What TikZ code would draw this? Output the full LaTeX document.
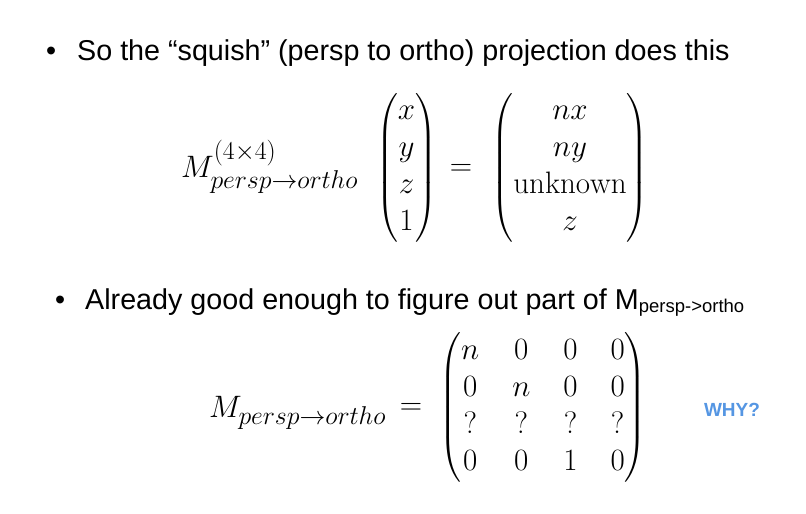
\RequirePackage{fix-cm}
\documentclass[tikz,border=0pt]{standalone}
\usepackage{amsmath}
\usepackage{fontspec}
\newfontfamily\slidefont{Liberation Sans}
\DeclareMathSizes{31}{31}{25.8}{21.7}
\definecolor{whyblue}{HTML}{5596E3}
\tikzset{
  bullettext/.style={anchor=base west, inner sep=0pt, font=\slidefont\fontsize{28.7}{34}\selectfont},
  mathbig/.style={inner sep=0pt, font=\fontsize{31}{37}\selectfont\setlength\arraycolsep{16.5pt}},
}
\begin{document}
\begin{tikzpicture}[x=1pt,y=-1pt]
\useasboundingbox[fill=white] (0,0) rectangle (806,514);
% first bullet
\node[bullettext] (b1) at (46,60) {•};
\node[bullettext] (t1) at (77,60) {So the “squish” (persp to ortho) projection does this};
% first equation
\node[mathbig, anchor=base west] (m1) at (181,177) {$M^{(4\times4)}_{persp\to ortho}$};
\node[mathbig] (v1) at (406.5,168) {$\begin{pmatrix}x\\y\\z\\1\end{pmatrix}$};
\node[mathbig] (eq1) at (461,170) {$=$};
\node[mathbig] (r1) at (570,168) {$\begin{pmatrix}nx\\ny\\\mathrm{unknown}\\z\end{pmatrix}$};
% second bullet
\node[bullettext] (b2) at (55,309) {•};
\node[bullettext] (t2) at (85,309) {Already good enough to figure out part of M\raisebox{-0.2ex}{\fontsize{18.5}{22}\selectfont persp->ortho}};
% second equation
\node[mathbig, anchor=base west] (m2) at (209,417) {$M_{persp\to ortho}$};
\node[mathbig] (eq2) at (411,409) {$=$};
\node[mathbig] (mat) at (543,407.5) {$\begin{pmatrix}n&0&0&0\\0&n&0&0\\?&?&?&?\\0&0&1&0\end{pmatrix}$};
\node[inner sep=0pt, font=\slidefont\bfseries\fontsize{19}{22}\selectfont, text=whyblue] (why) at (732,410) {WHY?};
\end{tikzpicture}
\end{document}
